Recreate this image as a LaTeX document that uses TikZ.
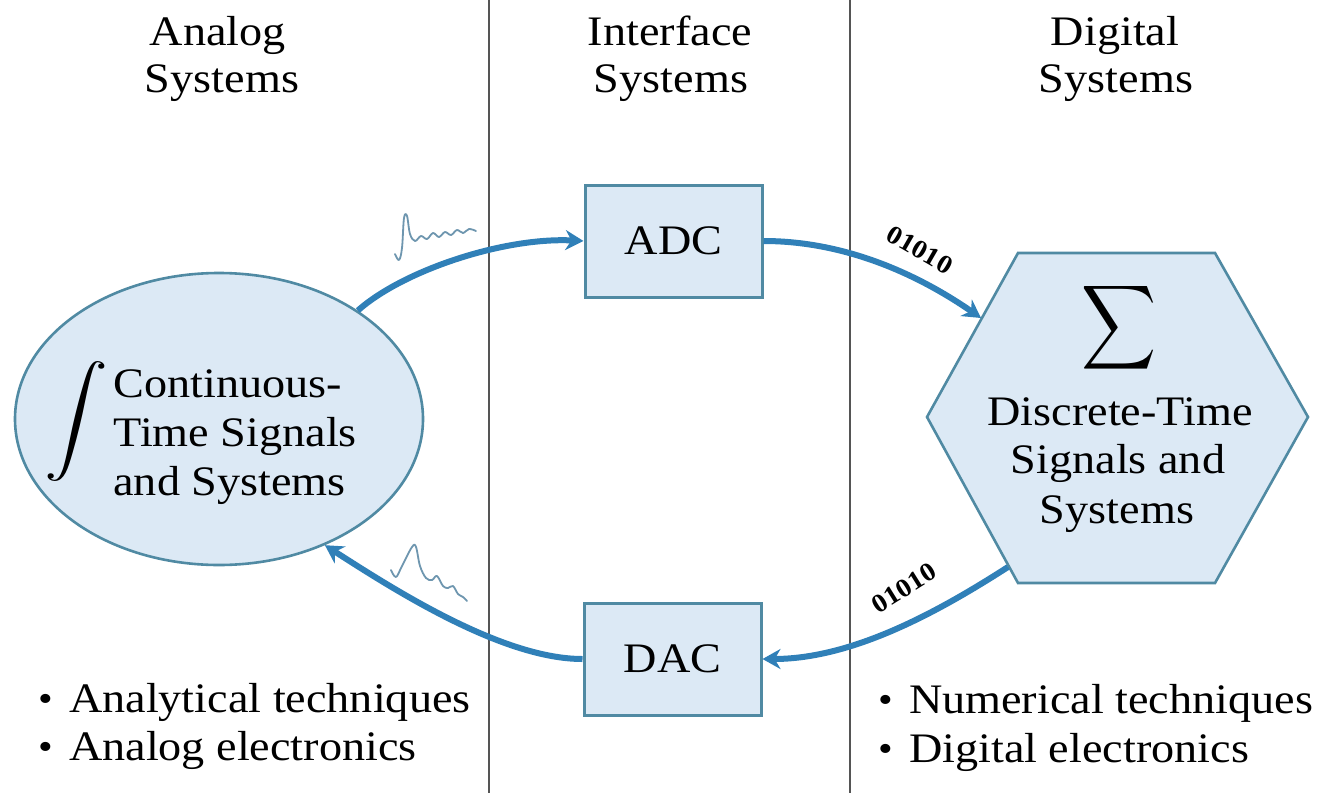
\documentclass[tikz,border=0pt]{standalone}
\usepackage{graphicx}
\usepackage{fontspec}
\setmainfont[FakeStretch=1.1]{Liberation Serif}
\usetikzlibrary{shapes.geometric,arrows.meta}
\definecolor{shapefill}{RGB}{220,233,245}
\definecolor{shapeline}{RGB}{80,138,163}
\definecolor{arrowc}{RGB}{48,128,184}
\definecolor{sepline}{RGB}{85,85,85}
\definecolor{squig}{RGB}{110,150,175}
\newcommand{\mybul}{{\fontsize{19pt}{19pt}\selectfont\raisebox{0.5pt}{•}}\hspace{8pt}}
\begin{document}
\begin{tikzpicture}[x=0.5pt,y=-0.5pt,
  txt/.style={font=\fontsize{21pt}{25pt}\selectfont, inner sep=0pt},
  box/.style={draw=shapeline, fill=shapefill, line width=1.5pt, minimum width=88.5pt, minimum height=56pt, inner sep=0pt, font=\fontsize{21pt}{25pt}\selectfont},
  flow/.style={draw=arrowc, line width=3pt, -{Stealth[length=9pt,width=10pt]}},
  bits/.style={font=\bfseries\fontsize{13pt}{15pt}\selectfont, inner sep=0pt},
  sepl/.style={draw=sepline, line width=1pt},
  wave/.style={draw=squig, line width=0.9pt, line join=round, line cap=round}]

\useasboundingbox (0,0) rectangle (1333,793);
\fill[white] (0,0) rectangle (1333,793);

% separators
\coordinate (s1t) at (489,0); \coordinate (s1b) at (489,793);
\coordinate (s2t) at (850,0); \coordinate (s2b) at (850,793);
\draw[sepl] (s1t) -- (s1b);
\draw[sepl] (s2t) -- (s2b);

% headers
\node[txt, anchor=base] (h1a) at (218,45) {Analog};
\node[txt, anchor=base] (h1b) at (222,92) {Systems};
\node[txt, anchor=base] (h2a) at (670,45) {Interface};
\node[txt, anchor=base] (h2b) at (671,92) {Systems};
\node[txt, anchor=base] (h3a) at (1115,45) {Digital};
\node[txt, anchor=base] (h3b) at (1116,92) {Systems};

% analog ellipse
\node[ellipse, draw=shapeline, fill=shapefill, line width=1.3pt, minimum width=204pt, minimum height=146pt, inner sep=0pt] (ell) at (219,419) {};
\node[inner sep=0pt] (int) at (76,421) {\scalebox{3.2}[2.7]{$\displaystyle\int$}};
\node[txt, anchor=base west] (c1) at (113,397) {Continuous-};
\node[txt, anchor=base west] (c2) at (113,446) {Time Signals};
\node[txt, anchor=base west] (c3) at (113,495) {and Systems};

% interface boxes
\node[box] (adc) at (673.5,241) {ADC};
\node[box] (dac) at (672.5,659) {DAC};

% digital hexagon
\coordinate (v1) at (927,417);
\coordinate (v2) at (1018,253);
\coordinate (v3) at (1215,253);
\coordinate (v4) at (1308,417);
\coordinate (v5) at (1215,583);
\coordinate (v6) at (1018,583);
\filldraw[draw=shapeline, fill=shapefill, line width=1.3pt, line join=miter] (v1) -- (v2) -- (v3) -- (v4) -- (v5) -- (v6) -- cycle;
\coordinate (hin) at (981,318);
\coordinate (hout) at (1008,567);
\node[inner sep=0pt] (sig) at (1119,328) {\scalebox{2.6}[2.95]{$\displaystyle\sum$}};
\node[txt, anchor=base] (d1) at (1120,425) {Discrete-Time};
\node[txt, anchor=base] (d2) at (1118,473) {Signals and};
\node[txt, anchor=base] (d3) at (1117,523) {Systems};

% connectors
\draw[flow] (ell.38) .. controls +(45,-40) and +(-80,-4) .. (adc.west);
\draw[flow] (adc.east) .. controls +(80,0) and +(-65,-45) .. (hin);
\draw[flow] (hout) .. controls +(-70,45) and +(90,0) .. (dac.east);
\draw[flow] (dac.west) .. controls +(-80,0) and +(70,45) .. (ell.-50);

% labels on connectors
\node[bits, rotate=-30] (b1) at (920,250) {01010};
\node[bits, rotate=32] (b2) at (904,588) {01010};

% signal squiggles
\draw[wave] plot[smooth, tension=0.6] coordinates {(395,254) (399,260) (402,248) (404,218) (407,216) (410,234) (415,241) (421,236) (427,239) (433,233) (439,237) (445,232) (451,235) (457,230) (463,233) (469,229) (476,231)};
\draw[wave] plot[smooth, tension=0.6] coordinates {(391,570) (396,577) (402,566) (412,547) (416,547) (420,566) (426,578) (432,580) (437,576) (443,586) (448,588) (453,586) (458,594) (463,597) (467,601)};

% bullets
\node[txt, anchor=base west] (l1) at (38,712) {\mybul Analytical techniques};
\node[txt, anchor=base west] (l2) at (38,760) {\mybul Analog electronics};
\node[txt, anchor=base west] (r1) at (878,713) {\mybul Numerical techniques};
\node[txt, anchor=base west] (r2) at (878,762) {\mybul Digital electronics};
\end{tikzpicture}
\end{document}
